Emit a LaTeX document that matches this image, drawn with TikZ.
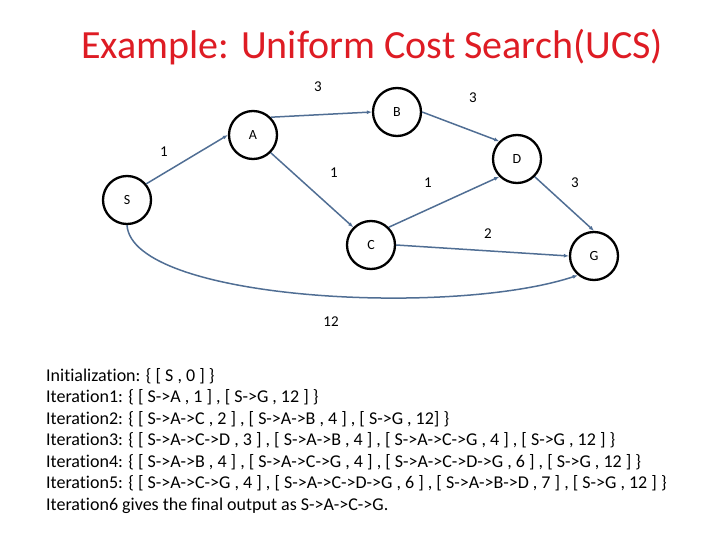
\documentclass[tikz,border=0pt]{standalone}
\usepackage{fontspec}
\setmainfont{Carlito}
\usetikzlibrary{arrows.meta}
\definecolor{edgeblue}{RGB}{80,110,148}
\definecolor{titlered}{RGB}{222,28,36}

\begin{document}
\begin{tikzpicture}[x=1pt, y=-1pt, >={Latex[length=5pt,width=4pt]},
  state/.style={draw, circle, line width=2.3pt, minimum size=48pt, inner sep=0pt, font=\fontsize{14}{14}\selectfont},
  edge/.style={->, draw=edgeblue, line width=1.5pt},
  wt/.style={font=\fontsize{15}{15}\selectfont}]
\useasboundingbox (0,0) rectangle (720,540);

\node[titlered, font=\fontsize{40}{40}\selectfont] (title) at (372,47) {Example: Uniform Cost Search(UCS)};

% graph
\node[state] (s) at (127,200) {S};
\node[state] (a) at (253,135) {A};
\node[state] (b) at (397,112) {B};
\node[state] (d) at (517,159) {D};
\node[state] (c) at (371,245) {C};
\node[state] (g) at (594,256) {G};

\draw[edge] (s.40) -- (a.west);
\draw[edge] (a.45) -- (b.west);
\draw[edge] (a.-45) -- (c.135);
\draw[edge] (b.east) -- (d.135);
\draw[edge] (c.45) -- (d.-135);
\draw[edge] (d.-45) -- (g.north);
\draw[edge] (c.east) -- (g.west);
\draw[edge] (s.south) .. controls +(5,75) and +(-127,42) .. (g.230);

% weights
\node[wt] (wsa) at (164,152) {1};
\node[wt] (wab) at (318,87) {3};
\node[wt] (wac) at (334,173) {1};
\node[wt] (wbd) at (473,98) {3};
\node[wt] (wcd) at (428,183) {1};
\node[wt] (wdg) at (575,183) {3};
\node[wt] (wcg) at (488,234) {2};
\node[wt] (wsg) at (331,322) {12};

% iterations
\node[anchor=north west, align=left, inner sep=0pt, font=\addfontfeatures{Ligatures=NoCommon}\fontsize{18}{21.5}\selectfont] (trace) at (46,368) {%
Initialization: \{ [ S , 0 ] \}\\
Iteration1: \{ [ S->A , 1 ] , [ S->G , 12 ] \}\\
Iteration2: \{ [ S->A->C , 2 ] , [ S->A->B , 4 ] , [ S->G , 12] \}\\
Iteration3: \{ [ S->A->C->D , 3 ] , [ S->A->B , 4 ] , [ S->A->C->G , 4 ] , [ S->G , 12 ] \}\\
Iteration4: \{ [ S->A->B , 4 ] , [ S->A->C->G , 4 ] , [ S->A->C->D->G , 6 ] , [ S->G , 12 ] \}\\
Iteration5: \{ [ S->A->C->G , 4 ] , [ S->A->C->D->G , 6 ] , [ S->A->B->D , 7 ] , [ S->G , 12 ] \}\\
Iteration6 gives the final output as S->A->C->G.};
\end{tikzpicture}
\end{document}
